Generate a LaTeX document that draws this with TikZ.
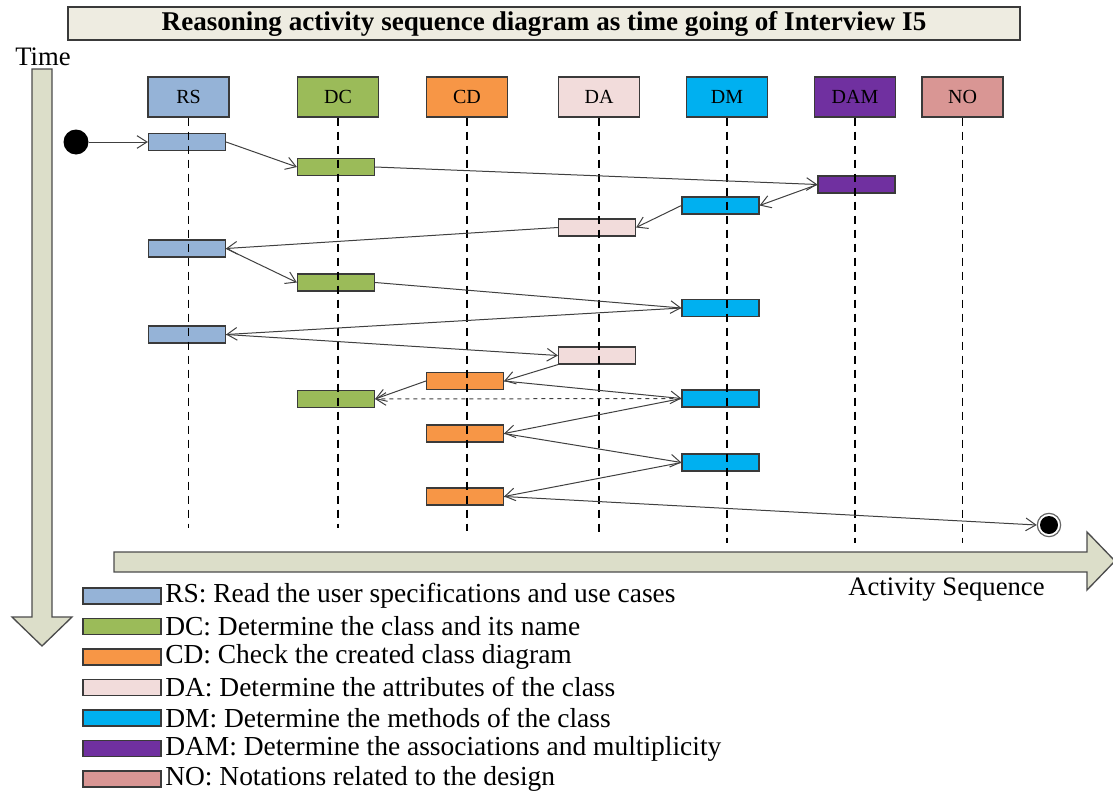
\documentclass[tikz,border=0pt]{standalone}
\usepackage{fontspec}
\setmainfont{Liberation Serif}
\usetikzlibrary{arrows.meta}

\definecolor{rscol}{HTML}{95B3D7}
\definecolor{dccol}{HTML}{9BBB59}
\definecolor{cdcol}{HTML}{F79646}
\definecolor{dacol}{HTML}{F2DCDB}
\definecolor{dmcol}{HTML}{00B0F0}
\definecolor{damcol}{HTML}{7030A0}
\definecolor{nocol}{HTML}{D99694}
\definecolor{titlefill}{HTML}{EEECE1}
\definecolor{axisfill}{HTML}{DCDEC9}
\definecolor{edge}{HTML}{3A3A3A}

\newcommand\bigtext{\fontsize{20}{24}\selectfont}
\newcommand\legendtext{\fontsize{20.6}{24}\selectfont}

\begin{document}
\begin{tikzpicture}[x=0.75pt,y=-0.75pt,
  titlebox/.style={draw=edge, line width=1pt, fill=titlefill, minimum width=714pt,
    minimum height=24.75pt, inner sep=0pt, font=\bfseries\fontsize{20.3}{24}\selectfont},
  hdr/.style={draw=edge, line width=0.9pt, minimum width=60.75pt, minimum height=30pt,
    inner sep=0pt, font=\fontsize{15}{18}\selectfont},
  actbar/.style={draw=edge, line width=0.9pt, minimum width=57.75pt,
    minimum height=12.75pt, inner sep=0pt},
  swatch/.style={draw=edge, line width=0.9pt, minimum width=58.5pt,
    minimum height=12pt, inner sep=0pt},
  legtext/.style={anchor=west, inner sep=0pt, font=\legendtext},
  lifeline/.style={draw=black, line width=0.8pt, dash pattern=on 6.5pt off 4pt},
  conn/.style={draw=black!75, line width=0.75pt,
    -{Straight Barb[length=7.5pt,width=9.5pt]}},
  axis/.style={draw=black!70, line width=1pt, fill=axisfill}
]
\useasboundingbox (0,0) rectangle (1113,810);

% title banner
\node[titlebox] (title) at (544,23.5)
  {Reasoning activity sequence diagram as time going of Interview I5};

% time axis (downwards) and activity axis (rightwards)
\draw[axis] (32,69) -- (52,69) -- (52,617) -- (72,617) -- (42,646)
  -- (12,617) -- (32,617) -- cycle;
\node[anchor=base, inner sep=0pt, font=\bigtext] (timelbl) at (43,65) {Time};

\draw[axis] (114,552) -- (1087,552) -- (1087,532) -- (1115,561)
  -- (1087,590) -- (1087,572) -- (114,572) -- cycle;
\node[anchor=base, inner sep=0pt, font=\bigtext] (actlbl) at (946.5,595)
  {Activity Sequence};

% lifeline heads
\node[hdr, fill=rscol]  (hRS)  at (188.5,97) {RS};
\node[hdr, fill=dccol]  (hDC)  at (338,97)   {DC};
\node[hdr, fill=cdcol]  (hCD)  at (467,97)   {CD};
\node[hdr, fill=dacol]  (hDA)  at (599,97)   {DA};
\node[hdr, fill=dmcol]  (hDM)  at (727,97)   {DM};
\node[hdr, fill=damcol] (hDAM) at (855,97)   {DAM};
\node[hdr, fill=nocol]  (hNO)  at (962.5,97) {NO};

% activations
\node[actbar, fill=rscol]  (b1)  at (187,142)     {};
\node[actbar, fill=dccol]  (b2)  at (336,167)     {};
\node[actbar, fill=damcol] (b3)  at (856.5,184.5) {};
\node[actbar, fill=dmcol]  (b4)  at (720.5,205.5) {};
\node[actbar, fill=dacol]  (b5)  at (597,227.5)   {};
\node[actbar, fill=rscol]  (b6)  at (187,248.5)   {};
\node[actbar, fill=dccol]  (b7)  at (336,282.5)   {};
\node[actbar, fill=dmcol]  (b8)  at (720.5,308)   {};
\node[actbar, fill=rscol]  (b9)  at (187,334.5)   {};
\node[actbar, fill=dacol]  (b10) at (597,355.5)   {};
\node[actbar, fill=cdcol]  (b11) at (465,381)     {};
\node[actbar, fill=dccol]  (b12) at (336,399)     {};
\node[actbar, fill=dmcol]  (b13) at (720.5,398.5) {};
\node[actbar, fill=cdcol]  (b14) at (465,433.5)   {};
\node[actbar, fill=dmcol]  (b15) at (720.5,462.5) {};
\node[actbar, fill=cdcol]  (b16) at (465,496.5)   {};

% lifelines, drawn across the activations
\draw[lifeline] (hRS.south)  -- ++(0,410);
\draw[lifeline] (hDC.south)  -- ++(0,410);
\draw[lifeline] (hCD.south)  -- ++(0,413);
\draw[lifeline] (hDA.south)  -- ++(0,415);
\draw[lifeline] (hDM.south)  -- ++(0,425);
\draw[lifeline] (hDAM.south) -- ++(0,425);
\draw[lifeline] (hNO.south)  -- ++(0,425);

% start and final states
\node[circle, fill=black, minimum size=18.75pt, inner sep=0pt] (start) at (76,142) {};
\node[circle, draw=black!60, line width=0.9pt, fill=white, minimum size=17.5pt,
  inner sep=0pt] (stop) at (1049,525) {};
\node[circle, fill=black, minimum size=13.5pt, inner sep=0pt] (stopdot) at (stop.center) {};

% flow of reasoning activities
\draw[conn] (start.east) -- (b1.west);
\draw[conn] (b1.east)  -- (b2.west);
\draw[conn] (b2.east)  -- (b3.west);
\draw[conn] (b3.west)  -- (b4.east);
\draw[conn] (b4.west)  -- (b5.east);
\draw[conn] (b5.west)  -- (b6.east);
\draw[conn] (b6.east)  -- (b7.west);
\draw[conn] (b7.east)  -- (b8.west);
\draw[conn] (b8.west)  -- (b9.east);
\draw[conn] (b9.east)  -- (b10.west);
\draw[conn] (b10.south west) -- (b11.east);
\draw[conn] (b11.west) -- (b12.east);
\draw[conn] (b11.east) -- (b13.west);
\draw[conn, dashed] (b13.west) -- (b12.east);
\draw[conn] (b13.west) -- (b14.east);
\draw[conn] (b14.east) -- (b15.west);
\draw[conn] (b15.west) -- (b16.east);
\draw[conn] (b16.east) -- (stop.west);

% legend
\node[swatch, fill=rscol]  (kRS)  at (122,596)   {};
\node[swatch, fill=dccol]  (kDC)  at (122,626.5) {};
\node[swatch, fill=cdcol]  (kCD)  at (122,657)   {};
\node[swatch, fill=dacol]  (kDA)  at (122,687.5) {};
\node[swatch, fill=dmcol]  (kDM)  at (122,718)   {};
\node[swatch, fill=damcol] (kDAM) at (122,748.5) {};
\node[swatch, fill=nocol]  (kNO)  at (122,779)   {};
\node[legtext] (tRS)  at (165,596)   {RS: Read the user specifications and use cases};
\node[legtext] (tDC)  at (165,626.5) {DC: Determine the class and its name};
\node[legtext] (tCD)  at (165,657)   {CD: Check the created class diagram};
\node[legtext] (tDA)  at (165,687.5) {DA: Determine the attributes of the class};
\node[legtext] (tDM)  at (165,718)   {DM: Determine the methods of the class};
\node[legtext] (tDAM) at (165,748.5) {DAM: Determine the associations and multiplicity};
\node[legtext] (tNO)  at (165,779)   {NO: Notations related to the design};
\end{tikzpicture}
\end{document}
